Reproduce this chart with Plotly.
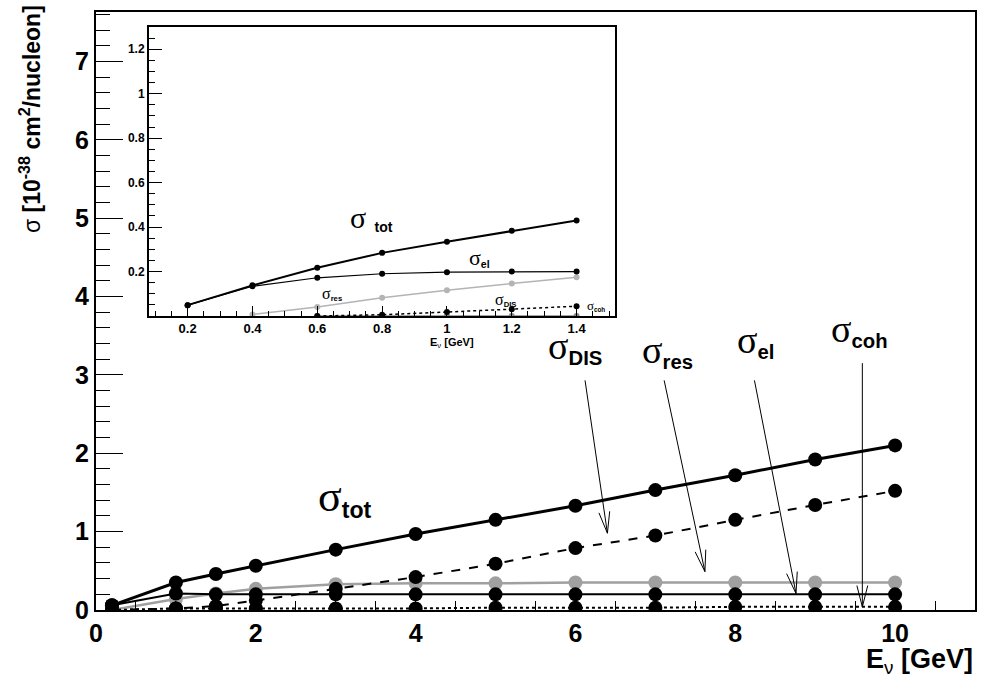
import numpy as np
import plotly.graph_objects as go

# neutrino energy points (GeV) of the main plot
E = [0.2, 1, 1.5, 2, 3, 4, 5, 6, 7, 8, 9, 10]
sig_tot = [0.06, 0.35, 0.46, 0.565, 0.77, 0.97, 1.15, 1.33, 1.53, 1.72, 1.92, 2.1]
sig_dis = [0.0, 0.02, 0.05, 0.12, 0.27, 0.42, 0.59, 0.79, 0.95, 1.15, 1.34, 1.52]
sig_res = [0.0, 0.14, 0.21, 0.27, 0.33, 0.34, 0.34, 0.35, 0.35, 0.35, 0.35, 0.35]
sig_el = [0.06, 0.21, 0.2, 0.2, 0.2, 0.2, 0.2, 0.2, 0.2, 0.2, 0.2, 0.2]
sig_coh = [0.0, 0.02, 0.02, 0.02, 0.02, 0.02, 0.03, 0.03, 0.03, 0.04, 0.04, 0.04]

# low energy inset
E_low = [0.2, 0.4, 0.6, 0.8, 1.0, 1.2, 1.4]
low_tot = [0.049, 0.138, 0.217, 0.284, 0.334, 0.383, 0.43]
low_el = [0.049, 0.134, 0.172, 0.19, 0.197, 0.2, 0.2]
low_res = [None, 0.007, 0.041, 0.082, 0.116, 0.146, 0.174]
low_coh = [None, None, 0.0, 0.006, 0.018, 0.03, 0.044]
low_dis = [None, None, 0.0, 0.0, 0.0, 0.0, 0.0]

W, H = 984, 677
ML, MR, MT, MB = 96, 7, 12, 67
XMAX, YMAX = 11, 7.63
FONT = "Liberation Sans"

fig = go.Figure()

# main curves (gray first so black markers sit on top)
fig.add_trace(go.Scatter(x=E, y=sig_res, mode='lines+markers', name='res',
                         line=dict(color='#a0a0a0', width=2.5),
                         marker=dict(color='#a0a0a0', size=14)))
fig.add_trace(go.Scatter(x=E, y=sig_dis, mode='lines+markers', name='DIS',
                         line=dict(color='black', width=2, dash='dash'),
                         marker=dict(color='black', size=14)))
fig.add_trace(go.Scatter(x=E, y=sig_el, mode='lines+markers', name='el',
                         line=dict(color='black', width=2),
                         marker=dict(color='black', size=14)))
fig.add_trace(go.Scatter(x=E, y=sig_coh, mode='lines+markers', name='coh',
                         line=dict(color='black', width=2, dash='dot'),
                         marker=dict(color='black', size=14)))
fig.add_trace(go.Scatter(x=E, y=sig_tot, mode='lines+markers', name='tot',
                         line=dict(color='black', width=3),
                         marker=dict(color='black', size=14)))

# inset curves
fig.add_trace(go.Scatter(x=E_low, y=low_dis, mode='lines+markers', xaxis='x2', yaxis='y2',
                         line=dict(color='#888888', width=1.5),
                         marker=dict(color='#888888', size=6)))
fig.add_trace(go.Scatter(x=E_low, y=low_res, mode='lines+markers', xaxis='x2', yaxis='y2',
                         line=dict(color='#b4b4b4', width=1.5),
                         marker=dict(color='#b4b4b4', size=6)))
fig.add_trace(go.Scatter(x=E_low, y=low_coh, mode='lines+markers', xaxis='x2', yaxis='y2',
                         line=dict(color='black', width=1.5, dash='dot'),
                         marker=dict(color='black', size=6)))
fig.add_trace(go.Scatter(x=E_low, y=low_el, mode='lines+markers', xaxis='x2', yaxis='y2',
                         line=dict(color='black', width=1.2),
                         marker=dict(color='black', size=6)))
fig.add_trace(go.Scatter(x=E_low, y=low_tot, mode='lines+markers', xaxis='x2', yaxis='y2',
                         line=dict(color='black', width=2),
                         marker=dict(color='black', size=6)))

# arrows from the labels down to the curves
sx = (W - ML - MR) / XMAX
sy = (H - MT - MB) / YMAX
arrows = [(6.12, 2.93, 6.40, 0.98), (7.11, 2.93, 7.62, 0.49),
          (8.24, 2.93, 8.76, 0.21), (9.59, 3.15, 9.59, 0.04)]
for x0, y0, x1, y1 in arrows:
    ang = np.arctan2((y1 - y0) * sy, (x1 - x0) * sx)
    head = []
    for s in (1, -1):
        a = ang + np.pi + s * 0.25
        head.append((x1 + 22 * np.cos(a) / sx, y1 + 22 * np.sin(a) / sy))
    fig.add_shape(type='line', x0=x0, y0=y0, x1=x1, y1=y1, xref='x', yref='y',
                  line=dict(color='black', width=1))
    path = f"M {head[0][0]},{head[0][1]} L {x1},{y1} L {head[1][0]},{head[1][1]}"
    fig.add_shape(type='path', path=path, xref='x', yref='y',
                  line=dict(color='black', width=1))

def sig(sub, subsize):
    return (f'<span style="font-family:Liberation Serif">σ</span>'
            f'<span style="font-size:{subsize}px"><sub><b>{sub}</b></sub></span>')

labels = [
    (3.12, 1.44, 'tot', 44, 33, 'x', 'y'),
    (6.0, 3.35, 'DIS', 38, 29, 'x', 'y'),
    (7.15, 3.30, 'res', 38, 29, 'x', 'y'),
    (8.25, 3.43, 'el', 38, 29, 'x', 'y'),
    (9.55, 3.57, 'coh', 38, 29, 'x', 'y'),
    (1.10, 0.263, 'el', 22, 15, 'x2', 'y2'),
    (0.645, 0.097, 'res', 16, 11, 'x2', 'y2'),
    (1.18, 0.074, 'DIS', 16, 11, 'x2', 'y2'),
    (1.46, 0.047, 'coh', 13, 9, 'x2', 'y2'),
]
for x, y, sub, size, subsize, xr, yr in labels:
    fig.add_annotation(x=x, y=y, xref=xr, yref=yr, text=sig(sub, subsize),
                       showarrow=False, font=dict(family=FONT, size=size, color='black'))

# inset sigma tot has a gap before the subscript
fig.add_annotation(x=0.768, y=0.443, xref='x2', yref='y2', showarrow=False,
                   text='<span style="font-family:Liberation Serif">σ</span> '
                        '<span style="font-size:20px"><sub><b>tot</b></sub></span>',
                   font=dict(family=FONT, size=30, color='black'))

# axis titles
fig.add_annotation(x=1.0, y=-0.086, xref='paper', yref='paper', xanchor='right', yanchor='middle',
                   showarrow=False, font=dict(family=FONT, size=27, color='black'),
                   text='<b>E</b><sub>ν</sub><b> [GeV]</b>')
fig.add_annotation(x=-0.075, y=1.015, xref='paper', yref='paper', xanchor='center', yanchor='top',
                   textangle=-90, showarrow=False, font=dict(family=FONT, size=23, color='black'),
                   text='σ <b>[10<sup>-38</sup> cm<sup>2</sup>/nucleon]</b>')
fig.add_annotation(x=0.378, y=0.446, xref='paper', yref='paper', xanchor='left', yanchor='middle',
                   showarrow=False, font=dict(family=FONT, size=11, color='black'),
                   text='<b>E</b><sub>ν</sub><b> [GeV]</b>')

main_tick = dict(family=FONT, size=25, color='black', weight='bold')
inset_tick = dict(family=FONT, size=13, color='black', weight='bold')

fig.update_layout(
    width=W, height=H,
    margin=dict(l=ML, r=MR, t=MT, b=MB),
    plot_bgcolor='white', paper_bgcolor='white',
    showlegend=False,
    xaxis=dict(range=[0, XMAX], dtick=2, tick0=0, ticks='inside', ticklen=18, tickwidth=1,
               tickcolor='black', showline=True, mirror=True, linewidth=2, linecolor='black',
               showgrid=False, zeroline=False, tickfont=main_tick,
               minor=dict(dtick=0.5, ticks='inside', ticklen=9, tickcolor='black')),
    yaxis=dict(range=[0, YMAX], dtick=1, tick0=0, ticks='inside', ticklen=27, tickwidth=1,
               tickcolor='black', showline=True, mirror=True, linewidth=2, linecolor='black',
               showgrid=False, zeroline=False, tickfont=main_tick,
               minor=dict(dtick=0.2, ticks='inside', ticklen=14, tickcolor='black')),
    xaxis2=dict(domain=[0.060, 0.591], anchor='y2', range=[0.08, 1.52],
                tickvals=[0.2, 0.4, 0.6, 0.8, 1.0, 1.2, 1.4],
                ticktext=['0.2', '0.4', '0.6', '0.8', '1', '1.2', '1.4'],
                ticks='inside', ticklen=10, tickcolor='black', showline=True, mirror=True,
                linewidth=1.5, linecolor='black', showgrid=False, zeroline=False,
                tickfont=inset_tick,
                minor=dict(dtick=0.05, tick0=0, ticks='inside', ticklen=5, tickcolor='black')),
    yaxis2=dict(domain=[0.4916, 0.975], anchor='x2', range=[0, 1.3],
                tickvals=[0.2, 0.4, 0.6, 0.8, 1.0, 1.2],
                ticktext=['0.2', '0.4', '0.6', '0.8', '1', '1.2'],
                ticks='inside', ticklen=14, tickcolor='black', showline=True, mirror=True,
                linewidth=1.5, linecolor='black', showgrid=False, zeroline=False,
                tickfont=dict(family=FONT, size=12, color='black', weight='bold'),
                minor=dict(dtick=0.05, tick0=0, ticks='inside', ticklen=7, tickcolor='black')),
)

# drop the default page margin so the figure sits at the window origin
fig.write_html("out.html", config={'displayModeBar': False},
               post_script="document.body.style.margin='0';")
